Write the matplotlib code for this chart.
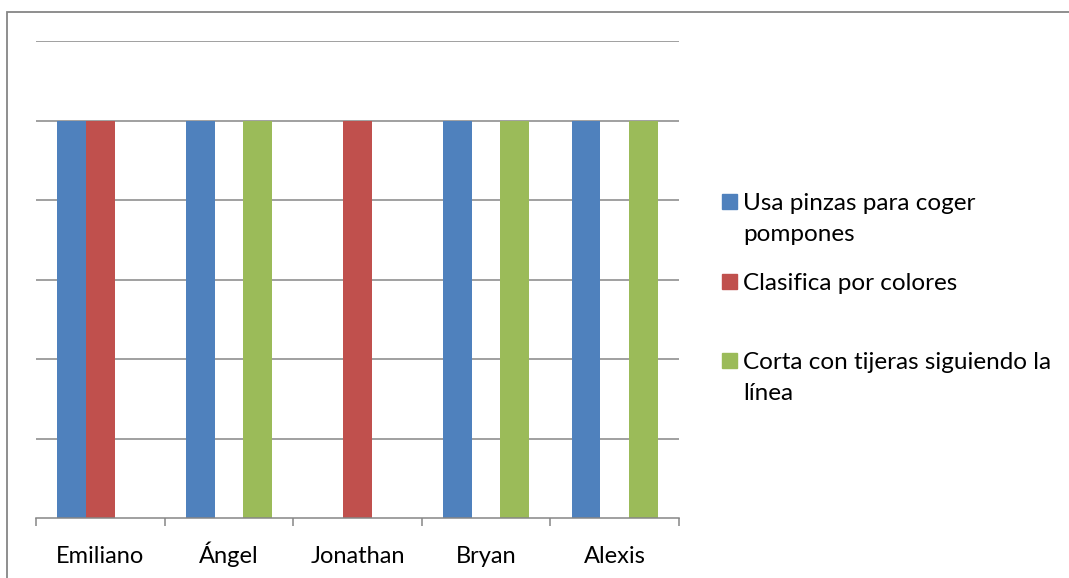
import matplotlib
matplotlib.use("Agg")
import matplotlib.pyplot as plt
from matplotlib.patches import Rectangle
import numpy as np

categories = ["Emiliano", "Ángel", "Jonathan", "Bryan", "Alexis"]
series_names = ["Usa pinzas para coger\npompones", "Clasifica por colores",
                "Corta con tijeras siguiendo la\nlínea"]
usa_pinzas = [1, 1, 0, 1, 1]
clasifica = [1, 0, 1, 0, 0]
corta = [0, 1, 0, 1, 1]
colors = ["#4F81BD", "#C0504D", "#9BBB59"]

plt.rcParams['font.family'] = ['Lato', 'DejaVu Sans']

W, H = 1069, 578
fig = plt.figure(figsize=(W / 100, H / 100), dpi=100)
ax = fig.add_axes([36 / W, 1 - 518 / H, (679 - 36) / W, (518 - 41) / H])

grid_c = "#868686"
x = np.arange(len(categories)) + 0.5
bw = 0.222
for k, vals in enumerate([usa_pinzas, clasifica, corta]):
    ax.bar(x + (k - 1) * bw, vals, width=bw, color=colors[k], linewidth=0, zorder=3)

ax.set_xlim(0, len(categories))
ax.set_ylim(0, 1.2)
ax.set_yticks(np.arange(0.2, 1.21, 0.2))
ax.yaxis.grid(True, color=grid_c, linewidth=1.1, zorder=1)
ax.tick_params(axis='y', length=0, labelleft=False)
for s in ['top', 'right', 'left']:
    ax.spines[s].set_visible(False)
ax.spines['bottom'].set_color(grid_c)
ax.spines['bottom'].set_linewidth(1.1)
ax.spines['bottom'].set_zorder(4)

ax.set_xticks(x)
ax.set_xticklabels(categories, fontsize=17, color="#000000")
for lab in ax.get_xticklabels():
    lab.set_va('baseline')
ax.tick_params(axis='x', which='major', length=0, pad=(563 - 518) * 0.72)
ax.set_xticks(np.arange(0, len(categories) + 1), minor=True)
ax.tick_params(axis='x', which='minor', length=6, width=1.1, color=grid_c, direction='out')

# legend, drawn manually to mimic Excel spacing
legend_base = [210, 290, 369]
line_gap = 31
for name, c, yb in zip(series_names, colors, legend_base):
    fig.patches.append(Rectangle((722 / W, 1 - 209 / H + (210 - yb) / H), 15 / W, 15 / H,
                                 transform=fig.transFigure, color=c, figure=fig))
    for j, line in enumerate(name.split("\n")):
        fig.text(743 / W, 1 - (yb + j * line_gap) / H, line, fontsize=17.5,
                 va='baseline', ha='left', color="#000000")

# outer border
fig.patches.append(Rectangle((7 / W, -0.05), 1.1, 1 - 12 / H + 0.05,
                             transform=fig.transFigure, fill=False,
                             edgecolor=grid_c, linewidth=1.3, figure=fig))

fig.savefig("out.png", dpi=100)
